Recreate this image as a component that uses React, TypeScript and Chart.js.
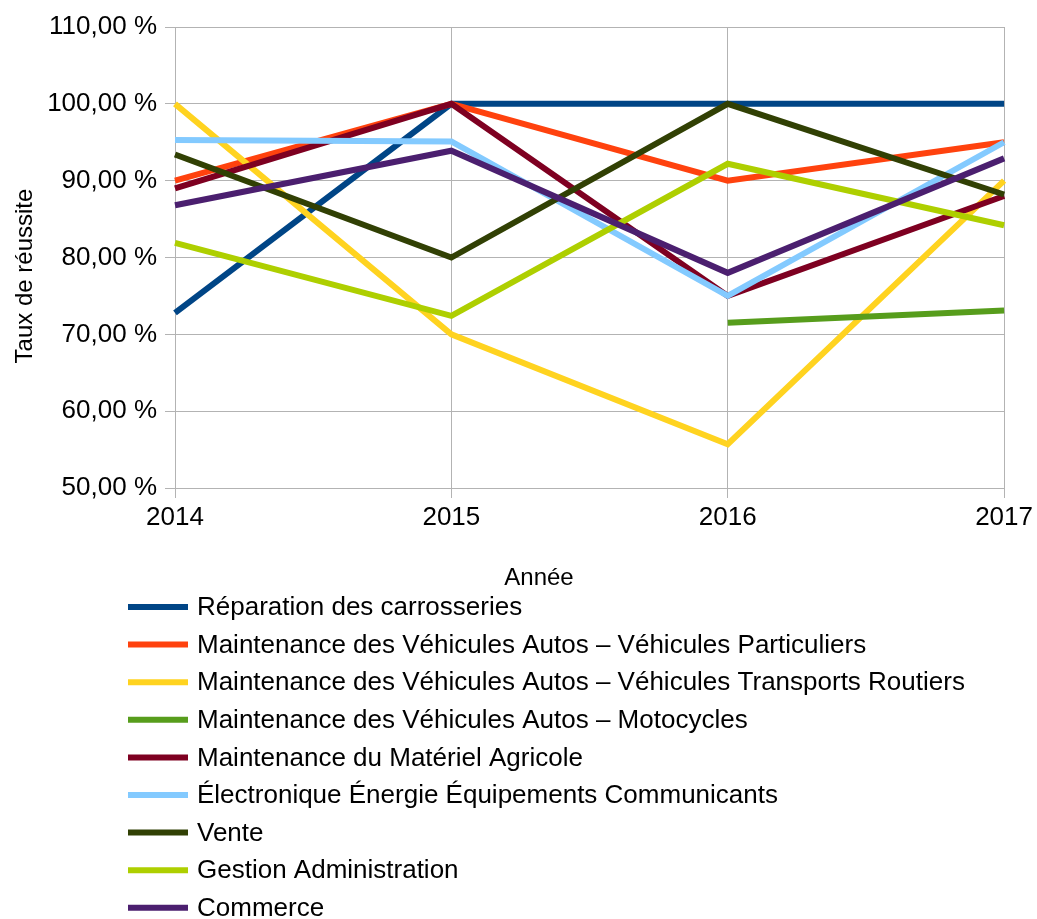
import React, { useEffect, useRef } from "react";
import { Chart, registerables } from "chart.js";

Chart.register(...registerables);

const years = ["2014", "2015", "2016", "2017"];

const reparation = [72.8, 100, 100, 100];
const particuliers = [90, 100, 90, 95];
const transports = [100, 70, 55.7, 90];
const motocycles = [null, null, 71.5, 73.1];
const agricole = [89, 100, 75, 88];
const electronique = [95.3, 95.1, 75, 95];
const vente = [93.4, 80, 100, 88.2];
const gestion = [81.9, 72.4, 92.2, 84.2];
const commerce = [86.8, 93.9, 78, 92.9];

const seriesNames = [
  "Réparation des carrosseries",
  "Maintenance des Véhicules Autos – Véhicules Particuliers",
  "Maintenance des Véhicules Autos – Véhicules Transports Routiers",
  "Maintenance des Véhicules Autos – Motocycles",
  "Maintenance du Matériel Agricole",
  "Électronique Énergie Équipements Communicants",
  "Vente",
  "Gestion Administration",
  "Commerce",
];
const seriesValues = [
  reparation,
  particuliers,
  transports,
  motocycles,
  agricole,
  electronique,
  vente,
  gestion,
  commerce,
];
const seriesColors = [
  "#004586",
  "#ff420e",
  "#ffd320",
  "#579d1c",
  "#7e0021",
  "#83caff",
  "#314004",
  "#aecf00",
  "#4b1f6f",
];

const yTitle = "Taux de réussite";
const xTitle = "Année";
const FONT = "'Liberation Sans', Arial, sans-serif";

const customDraw = {
  id: "customDraw",
  afterDraw(chart: any) {
    const ctx = chart.ctx;
    ctx.save();
    // axis titles
    ctx.fillStyle = "#000";
    ctx.font = `24px ${FONT}`;
    ctx.textAlign = "center";
    ctx.textBaseline = "middle";
    ctx.fillText(xTitle, 539, 578);
    ctx.save();
    ctx.translate(25, 276);
    ctx.rotate(-Math.PI / 2);
    ctx.fillText(yTitle, 0, 0);
    ctx.restore();
    // legend
    ctx.font = `26px ${FONT}`;
    ctx.textAlign = "left";
    const startY = 607;
    const step = 37.6;
    chart.data.datasets.forEach((ds: any, i: number) => {
      const y = startY + i * step;
      ctx.strokeStyle = ds.borderColor;
      ctx.lineWidth = 6;
      ctx.lineCap = "butt";
      ctx.beginPath();
      ctx.moveTo(128, y);
      ctx.lineTo(188, y);
      ctx.stroke();
      ctx.fillStyle = "#000";
      ctx.fillText(ds.label, 197, y + 1);
    });
    ctx.restore();
  },
};

export default function App() {
  const canvasRef = useRef<HTMLCanvasElement | null>(null);

  useEffect(() => {
    document.body.style.margin = "0";
    const canvas = canvasRef.current;
    if (!canvas) return;
    const chart = new Chart(canvas, {
      type: "line",
      data: {
        labels: years,
        datasets: seriesNames.map((name, i) => ({
          label: name,
          data: seriesValues[i],
          borderColor: seriesColors[i],
          backgroundColor: seriesColors[i],
          borderWidth: 6,
          pointRadius: 0,
          pointHoverRadius: 0,
          tension: 0,
          spanGaps: false,
          order: -i,
        })),
      },
      options: {
        animation: false,
        responsive: false,
        maintainAspectRatio: false,
        layout: { padding: { top: 27, right: 32, bottom: 328, left: 0 } },
        plugins: {
          legend: { display: false },
          tooltip: { enabled: false },
          title: { display: false },
        },
        scales: {
          x: {
            type: "category",
            offset: false,
            grid: { color: "#b3b3b3", lineWidth: 1, tickLength: 10, drawTicks: true },
            border: { color: "#b3b3b3", width: 1 },
            ticks: {
              color: "#000",
              font: { family: FONT, size: 26 },
              padding: 4,
              maxRotation: 0,
              autoSkip: false,
            },
            afterFit: (s: any) => {
              s.height = 103;
            },
          },
          y: {
            min: 50,
            max: 110,
            grid: { color: "#b3b3b3", lineWidth: 1, tickLength: 10, drawTicks: true },
            border: { color: "#b3b3b3", width: 1 },
            ticks: {
              stepSize: 10,
              color: "#000",
              font: { family: FONT, size: 26 },
              padding: 8,
              callback: (v: any) => Number(v).toFixed(2).replace(".", ",") + " %",
            },
            afterFit: (s: any) => {
              s.width = 175;
            },
          },
        },
      },
      plugins: [customDraw],
    });
    return () => chart.destroy();
  }, []);

  return (
    <div style={{ position: "absolute", left: 0, top: 0, width: 1037, height: 919, background: "#fff" }}>
      <canvas ref={canvasRef} width={1037} height={919} style={{ display: "block" }} />
    </div>
  );
}
